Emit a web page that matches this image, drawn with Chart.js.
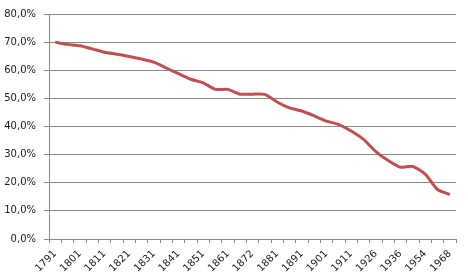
<!DOCTYPE html>
<html>
<head>
<meta charset="utf-8">
<script src="https://cdn.jsdelivr.net/npm/chart.js@4/dist/chart.umd.min.js"></script>
<style>
  html, body { margin: 0; padding: 0; background: #fff; }
  #wrap { width: 468px; height: 280px; }
</style>
</head>
<body>
<div id="wrap"><canvas id="chart" width="468" height="280"></canvas></div>
<script>
// census years (every other one labelled on the axis)
var years = ["1791", "1796", "1801", "1806", "1811", "1816", "1821", "1826", "1831", "1836",
             "1841", "1846", "1851", "1856", "1861", "1866", "1872", "1876", "1881", "1886",
             "1891", "1896", "1901", "1906", "1911", "1921", "1926", "1931", "1936", "1946",
             "1954", "1962", "1968"];
// share in percent
var share = [70.0, 69.2, 68.7, 67.6, 66.4, 65.7, 64.9, 64.0, 62.9, 60.8,
             58.8, 56.8, 55.5, 53.2, 53.2, 51.5, 51.5, 51.4, 48.7, 46.6,
             45.5, 43.8, 41.9, 40.7, 38.4, 35.4, 31.1, 27.9, 25.5, 25.8,
             23.1, 17.6, 15.8];
var yMin = 0, yMax = 80, yStep = 10;

var gridColor = "#888888";
var textColor = "#1a1a1a";
var font = { family: "DejaVu Sans", size: 10 };

var ctx = document.getElementById("chart").getContext("2d");
var chart = new Chart(ctx, {
    type: "line",
    data: {
        labels: years,
        datasets: [{
            data: share,
            borderColor: "#c0504d",
            backgroundColor: "transparent",
            borderWidth: 3,
            pointRadius: 0,
            tension: 0.2
        }]
    },
    options: {
        responsive: false,
        animation: false,
        events: [],
        layout: { padding: { left: 0, right: 12, top: 11, bottom: 0 } },
        plugins: { legend: { display: false }, tooltip: { enabled: false } },
        scales: {
            x: {
                offset: true,
                grid: { offset: true, drawOnChartArea: false, drawTicks: true, tickLength: 4, color: gridColor },
                border: { display: true, color: gridColor },
                ticks: {
                    autoSkip: false,
                    maxRotation: 45,
                    minRotation: 45,
                    padding: 5,
                    color: textColor,
                    font: font,
                    callback: function(v, i) { return i % 2 == 0 ? years[i] : ""; }
                },
                afterFit: function(scale) { scale.height = 41; }
            },
            y: {
                min: yMin,
                max: yMax,
                grid: { color: gridColor, tickLength: 5 },
                border: { display: true, color: gridColor },
                ticks: {
                    stepSize: yStep,
                    padding: 8,
                    color: textColor,
                    font: font,
                    callback: function(v) { return v.toFixed(1).replace(".", ",") + "%"; }
                },
                afterFit: function(scale) { scale.width = 49; }
            }
        }
    }
});
</script>
</body>
</html>
